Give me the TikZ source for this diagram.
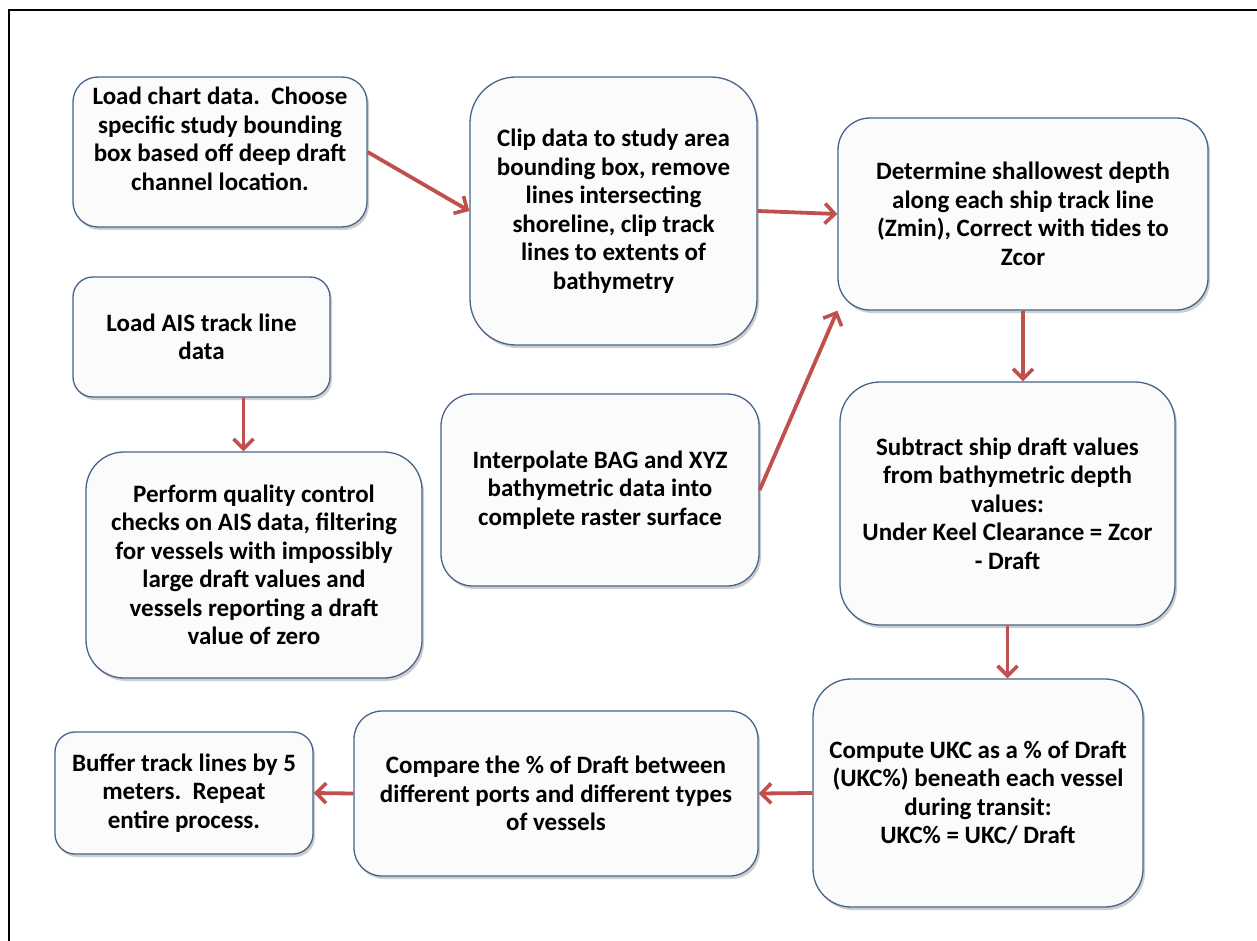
\documentclass[tikz,border=0pt]{standalone}
\usepackage{fontspec}
\setmainfont{Carlito}
\usetikzlibrary{arrows.meta,shadows}
\definecolor{boxline}{RGB}{72,100,136}
\definecolor{boxfill}{RGB}{251,251,251}
\definecolor{arrowred}{RGB}{192,80,77}
\tikzset{
  flowbox/.style={draw=boxline, line width=1.3pt, fill=boxfill, align=center,
    font=\fontsize{25}{28.5}\selectfont\bfseries, inner sep=0pt,
    drop shadow={shadow xshift=2pt, shadow yshift=-3pt, opacity=0.35, fill=black!55}},
  flowarrow/.style={draw=arrowred, line width=3.8pt,
    -{Straight Barb[length=10pt,width=20pt,line width=3.6pt]}},
}
\begin{document}
\begin{tikzpicture}[x=1pt,y=-1pt]
\useasboundingbox (0,0) rectangle (1257,941);
\draw[line width=2pt] (9,941) -- (9,10) -- (1257,10);

\node[flowbox, minimum width=294pt, minimum height=150pt, rounded corners=25pt] (A) at (220,152)
  {Load chart data.\ \ Choose\\specific study bounding\\box based off deep draft\\channel location.\\[-2pt]\mbox{}};
\node[flowbox, minimum width=287pt, minimum height=268pt, rounded corners=46pt] (B) at (613.5,211)
  {Clip data to study area\\bounding box, remove\\lines intersecting\\shoreline, clip track\\lines to extents of\\bathymetry};
\node[flowbox, minimum width=370pt, minimum height=192pt, rounded corners=32pt] (C) at (1023,214)
  {Determine shallowest depth\\along each ship track line\\(Zmin), Correct with tides to\\Zcor};
\node[flowbox, minimum width=257pt, minimum height=120pt, rounded corners=20pt] (D) at (201.5,337)
  {Load AIS track line\\data};
\node[flowbox, minimum width=336pt, minimum height=226pt, rounded corners=38pt] (E) at (254,565)
  {Perform quality control\\checks on AIS data, filtering\\for vessels with impossibly\\large draft values and\\vessels reporting a draft\\value of zero};
\node[flowbox, minimum width=318pt, minimum height=192pt, rounded corners=32pt] (F) at (600,490)
  {Interpolate BAG and XYZ\\bathymetric data into\\complete raster surface};
\node[flowbox, minimum width=335pt, minimum height=243pt, rounded corners=40pt] (G) at (1007.5,503.5)
  {Subtract ship draft values\\from bathymetric depth\\values:\\Under Keel Clearance = Zcor\\- Draft};
\node[flowbox, minimum width=330pt, minimum height=228pt, rounded corners=38pt] (H) at (978,793)
  {Compute UKC as a \% of Draft\\(UKC\%) beneath each vessel\\during transit:\\UKC\% = UKC/ Draft};
\node[flowbox, minimum width=404pt, minimum height=165pt, rounded corners=28pt] (I) at (556,793.5)
  {Compare the \% of Draft between\\different ports and different types\\of vessels};
\node[flowbox, minimum width=258pt, minimum height=122pt, rounded corners=20pt] (J) at (184,793)
  {Buffer track lines by 5\\meters.\ \ Repeat\\entire process.};

\draw[flowarrow] (A.east) -- (B.west);
\draw[flowarrow] (B.east) -- (C.west);
\draw[flowarrow] (F.east) -- (C.south west);
\draw[flowarrow] (C.south) -- (C.south |- G.north);
\draw[flowarrow] ([xshift=42pt]D.south) -- ([xshift=42pt]D.south |- E.north);
\draw[flowarrow] (G.south) -- (G.south |- H.north);
\draw[flowarrow] (H.west) -- (I.east);
\draw[flowarrow] (I.west) -- (J.east);
\end{tikzpicture}
\end{document}
